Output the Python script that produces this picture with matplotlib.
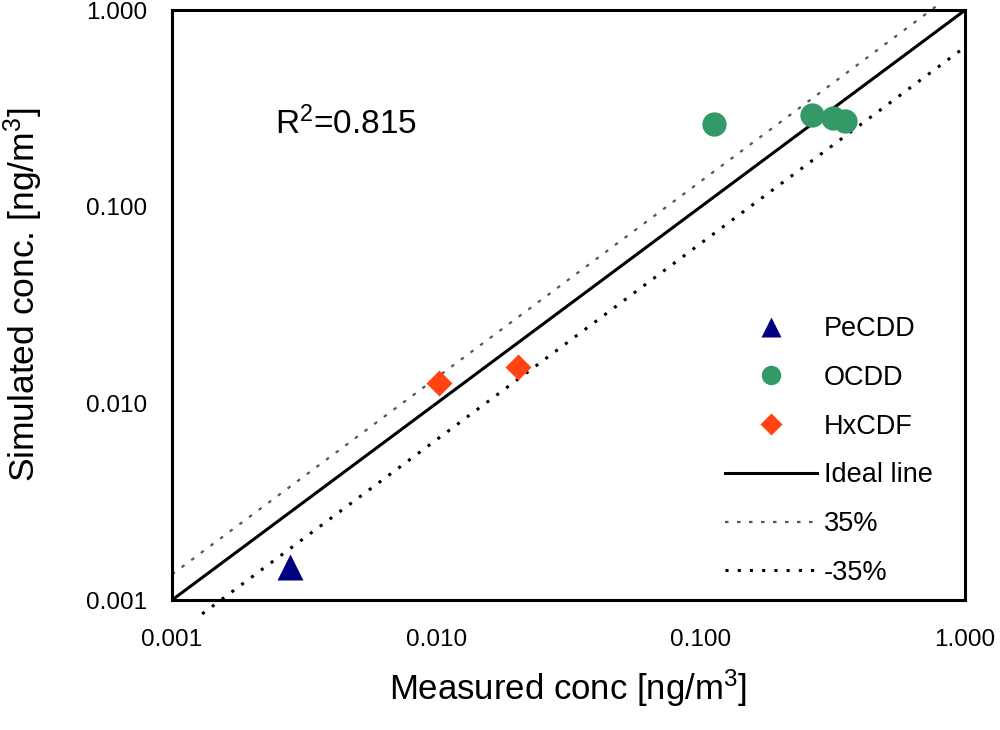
import numpy as np
import matplotlib
matplotlib.use("Agg")
import matplotlib.pyplot as plt
from matplotlib.ticker import FixedLocator, FixedFormatter

plt.rcParams['font.family'] = ['Liberation Sans', 'DejaVu Sans']
plt.rcParams['mathtext.fontset'] = 'custom'
plt.rcParams['mathtext.rm'] = 'Liberation Sans'
plt.rcParams['mathtext.it'] = 'Liberation Sans'

# measured vs simulated concentrations [ng/m3]
pecdd_meas = [0.0028]
pecdd_sim = [0.00148]
ocdd_meas = [0.112, 0.264, 0.317, 0.352]
ocdd_sim = [0.263, 0.292, 0.282, 0.272]
hxcdf_meas = [0.0102, 0.0204]
hxcdf_sim = [0.0127, 0.0153]

# reference lines (end points)
ideal_x = [0.001, 1.0]
ideal_y = [0.001, 1.0]
plus35_x = [0.001, 0.78]
plus35_y = [0.00135, 1.05]
minus35_x = [0.0013, 1.0]
minus35_y = [0.00085, 0.65]

ticks = [0.001, 0.01, 0.1, 1.0]
tick_labels = ['0.001', '0.010', '0.100', '1.000']

fig = plt.figure(figsize=(10, 7.3), dpi=100)
ax = fig.add_axes([0.172, 0.178, 0.793, 0.808])

ax.plot(pecdd_meas, pecdd_sim, ls='none', marker='^', ms=18.5,
        color='#000080', mec='none', label='PeCDD', zorder=4)
ax.plot(ocdd_meas, ocdd_sim, ls='none', marker='o', ms=17.5,
        color='#339966', mec='none', label='OCDD', zorder=4)
ax.plot(hxcdf_meas, hxcdf_sim, ls='none', marker='D', ms=13.5,
        color='#ff4411', mec='none', label='HxCDF', zorder=4)
ax.plot(ideal_x, ideal_y, color='black', lw=2.2, label='Ideal line', zorder=3)
ax.plot(plus35_x, plus35_y, color='#555555', lw=1.6, ls=(0, (1.6, 3.8)),
        label='35%', clip_on=False, zorder=3)
ax.plot(minus35_x, minus35_y, color='black', lw=2.2, ls=(0, (1.0, 3.0)),
        label='-35%', clip_on=False, zorder=3)

ax.set_xscale('log')
ax.set_yscale('log')
ax.set_xlim(0.001, 1.0)
ax.set_ylim(0.001, 1.0)
for axis in (ax.xaxis, ax.yaxis):
    axis.set_major_locator(FixedLocator(ticks))
    axis.set_major_formatter(FixedFormatter(tick_labels))
    axis.set_minor_locator(FixedLocator([]))
ax.tick_params(axis='both', length=0, labelsize=17.5)
ax.tick_params(axis='x', pad=21)
ax.tick_params(axis='y', pad=18)
for s in ax.spines.values():
    s.set_linewidth(2.2)
    s.set_zorder(5)

ax.set_xlabel('Measured conc [ng/m$^3$]', fontsize=25, labelpad=12)
ax.set_ylabel('Simulated conc. [ng/m$^3$]', fontsize=25.5)
ax.yaxis.set_label_coords(-0.16, 0.517)

ax.text(0.13, 0.808, 'R$^2$=0.815', transform=ax.transAxes, fontsize=24,
        va='center', ha='left')

fig.legend(loc='upper left', bbox_to_anchor=(0.725, 0.567), frameon=False,
           fontsize=19.5, markerscale=0.8, handlelength=3.4, handletextpad=0.25,
           labelspacing=0.84, borderpad=0, borderaxespad=0)

fig.savefig('out.png', dpi=100)
